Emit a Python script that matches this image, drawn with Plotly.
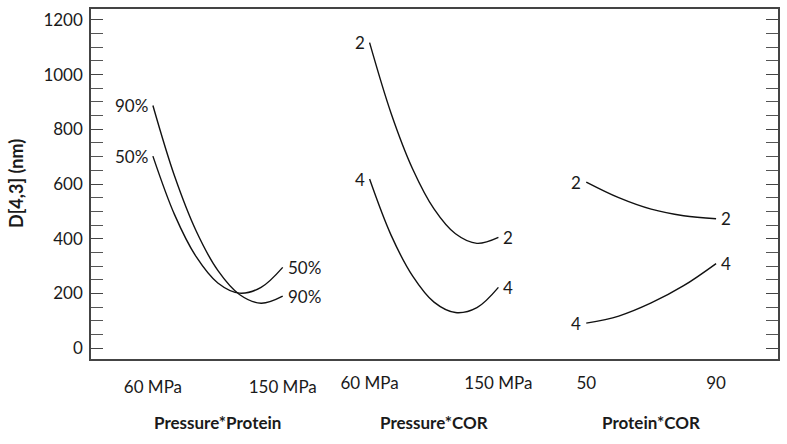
import plotly.graph_objects as go

# ---- data ----
pressure = [60, 75, 90, 105, 120, 135, 150]          # MPa
pp_50 = [702, 488, 334, 238, 201, 222, 295]           # Pressure*Protein, protein 50%
pp_90 = [887, 629, 428, 284, 196, 164, 190]           # Pressure*Protein, protein 90%
pc_2 = [1117, 859, 656, 509, 418, 383, 405]           # Pressure*COR, COR 2
pc_4 = [618, 413, 264, 168, 130, 148, 222]            # Pressure*COR, COR 4
protein = [50, 60, 70, 80, 90]
prc_2 = [607, 550, 508, 484, 473]                      # Protein*COR, COR 2
prc_4 = [91, 117, 165, 228, 309]                       # Protein*COR, COR 4

panel_titles = ["Pressure*Protein", "Pressure*COR", "Protein*COR"]
p_ticks = [60, 150]
p_ticktext = ["60 MPa", "150 MPa"]
pr_ticks = [50, 90]
pr_ticktext = ["50", "90"]
y_ticks = [0, 200, 400, 600, 800, 1000, 1200]

FONT = "Lato"
INK = "#1a1a1a"
LINE = dict(color="#111111", width=1.4, shape="spline")

fig = go.Figure()
series = [
    (pressure, pp_50, "x", "50%"), (pressure, pp_90, "x", "90%"),
    (pressure, pc_2, "x2", "2"), (pressure, pc_4, "x2", "4"),
    (protein, prc_2, "x3", "2"), (protein, prc_4, "x3", "4"),
]
annotations = []
for xs, ys, xa, lab in series:
    fig.add_trace(go.Scatter(x=xs, y=ys, mode="lines", line=LINE, xaxis=xa,
                             yaxis="y", showlegend=False, hoverinfo="skip"))
    annotations.append(dict(x=xs[0], y=ys[0], xref=xa, yref="y", text=lab,
                            showarrow=False, xanchor="right", xshift=-3,
                            font=dict(family=FONT, size=17, color=INK)))
    annotations.append(dict(x=xs[-1], y=ys[-1], xref=xa, yref="y", text=lab,
                            showarrow=False, xanchor="left", xshift=3,
                            font=dict(family=FONT, size=17, color=INK)))

mid = [(p_ticks[0] + p_ticks[1]) / 2, (p_ticks[0] + p_ticks[1]) / 2,
       (pr_ticks[0] + pr_ticks[1]) / 2]
for xa, m, t in zip(["x", "x2", "x3"], mid, panel_titles):
    annotations.append(dict(x=m, y=0, xref=xa, yref="paper", text="<b>%s</b>" % t,
                            showarrow=False, yanchor="middle", yshift=-63,
                            font=dict(family=FONT, size=17, color=INK)))

annotations.append(dict(x=0, y=0.5, xref="paper", yref="paper",
                        text="<b>D[4,3] (nm)</b>", textangle=-90, showarrow=False,
                        xanchor="center", yanchor="middle", xshift=-75,
                        font=dict(family=FONT, size=18, color=INK)))

xcommon = dict(showgrid=False, zeroline=False, ticks="",
               tickfont=dict(family=FONT, size=17, color=INK),
               ticklabelstandoff=12)

fig.update_layout(
    width=787, height=444,
    margin=dict(l=91, r=8, t=7, b=85),
    plot_bgcolor="white", paper_bgcolor="white",
    xaxis=dict(range=[17.08, 493.4], tickvals=p_ticks, ticktext=p_ticktext,
               showline=True, mirror=True, linecolor="#444444", linewidth=1.5,
               **xcommon),
    xaxis2=dict(range=[-134.65, 345.35], tickvals=p_ticks, ticktext=p_ticktext,
                overlaying="x", anchor="y", showline=False, **xcommon),
    xaxis3=dict(range=[-102.6, 109.08], tickvals=pr_ticks, ticktext=pr_ticktext,
                overlaying="x", anchor="y", showline=False, **xcommon),
    yaxis=dict(range=[-40, 1240], tickvals=y_ticks, showgrid=False, zeroline=False,
               showline=True, mirror="allticks", linecolor="#444444", linewidth=1.5,
               ticks="inside", ticklen=12, tickcolor="#444444", tickwidth=1.3,
               ticklabelstandoff=3,
               minor=dict(dtick=50, ticks="inside", ticklen=5, tickcolor="#555555",
                          tickwidth=1.2),
               tickfont=dict(family=FONT, size=17, color=INK)),
    annotations=annotations,
)

fig.write_html("out.html", config={"displayModeBar": False},
               post_script="document.body.style.margin='0';")
